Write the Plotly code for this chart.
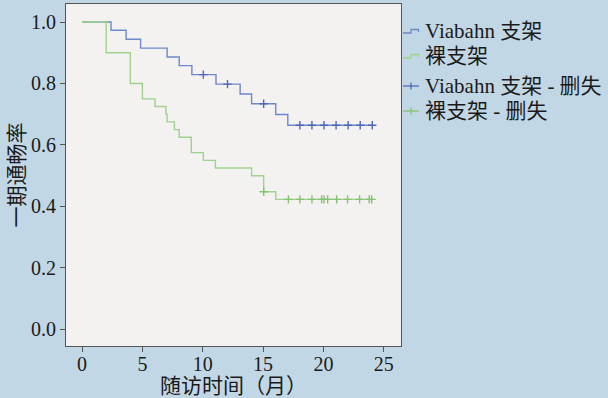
import numpy as np
import plotly.graph_objects as go

# ---- data ----
blue_name = "Viabahn 支架"
green_name = "裸支架"
blue_times = [0, 2.4, 3.65, 4.85, 7.05, 8.05, 9.1, 11.1, 13.1, 14.05, 16.05, 17.05]
blue_surv = [1.0, 0.973, 0.944, 0.915, 0.886, 0.858, 0.829, 0.798, 0.766, 0.734, 0.699, 0.664]
blue_censor = [10.05, 12.05, 15.05, 18.05, 19.05, 20.05, 21.05, 22.05, 23.05, 24.05]

green_times = [0, 2.0, 4.0, 5.0, 6.05, 6.95, 7.05, 7.65, 8.05, 9.05, 10.05, 11.05, 14.05, 15.05, 16.05]
green_surv = [1.0, 0.90, 0.80, 0.75, 0.725, 0.70, 0.675, 0.65, 0.625, 0.575, 0.55, 0.525, 0.50, 0.448, 0.423]
green_censor = [15.05, 17.1, 18.05, 19.05, 19.85, 20.05, 20.35, 21.1, 22.0, 23.0, 23.8, 24.0]

x_ticks = [0, 5, 10, 15, 20, 25]
y_ticks = [0.0, 0.2, 0.4, 0.6, 0.8, 1.0]
x_title = "随访时间（月）"
y_title = "一期通畅率"
legend_labels = ["Viabahn 支架", "裸支架", "Viabahn 支架 - 删失", "裸支架 - 删失"]

BLUE = "#7088c9"
BLUE_M = "#5068b6"
GREEN = "#9fd28c"
GREEN_M = "#85c372"
FONT = "Liberation Serif, 'Noto Sans CJK SC', serif"
TXT = "#1a1a1a"


def step_xy(times, surv, censor):
    end = max(max(censor), times[-1])
    return list(times) + [end], list(surv) + [surv[-1]]


def censor_y(times, surv, censor):
    idx = np.searchsorted(np.array(times), np.array(censor), side="right") - 1
    return [surv[i] for i in idx]


fig = go.Figure()
for times, surv, cens, col, mcol, name in [
    (blue_times, blue_surv, blue_censor, BLUE, BLUE_M, blue_name),
    (green_times, green_surv, green_censor, GREEN, GREEN_M, green_name),
]:
    sx, sy = step_xy(times, surv, cens)
    fig.add_trace(go.Scatter(x=sx, y=sy, mode="lines", line=dict(color=col, width=1.4, shape="hv"),
                             name=name, showlegend=False, hoverinfo="skip"))
    fig.add_trace(go.Scatter(x=cens, y=censor_y(times, surv, cens), mode="markers",
                             marker=dict(symbol="cross-thin", size=6, line=dict(color=mcol, width=1.4)),
                             name=name + " - 删失", showlegend=False, hoverinfo="skip"))

# ---- custom legend (symbols + text) ----
L = 66
W = 335
T = 4
H = 342


def px(x):
    return (x - L) / W


def py(y):
    return 1 - (y - T) / H


rows = [31, 56, 86, 111]
cols = [BLUE, GREEN, BLUE_M, GREEN_M]
shapes = []
for i, (r, c) in enumerate(zip(rows, cols)):
    if i < 2:
        path = "M {} {} L {} {} L {} {} L {} {} L {} {}".format(
            px(403), py(r + 2), px(411), py(r + 2), px(411), py(r - 1.5), px(418.5), py(r - 1.5), px(418.5), py(r + 1))
        shapes.append(dict(type="path", xref="paper", yref="paper", path=path,
                           line=dict(color=c, width=1.3)))
    else:
        shapes.append(dict(type="line", xref="paper", yref="paper", x0=px(403), x1=px(419), y0=py(r), y1=py(r),
                           line=dict(color=c, width=1.3)))
        shapes.append(dict(type="line", xref="paper", yref="paper", x0=px(411), x1=px(411), y0=py(r - 3.5), y1=py(r + 3.5),
                           line=dict(color=c, width=1.3)))

annotations = []
for r, lab in zip(rows, legend_labels):
    annotations.append(dict(x=px(423), y=py(r), xref="paper", yref="paper", text=lab, showarrow=False,
                            xanchor="left", yanchor="middle", font=dict(family=FONT, size=21, color=TXT)))

fig.update_layout(
    width=608, height=398,
    margin=dict(l=L, r=608 - L - W, t=T, b=398 - T - H, pad=0, autoexpand=False),
    paper_bgcolor="#c2d7e5",
    plot_bgcolor="#f3f2f1",
    showlegend=False,
    shapes=shapes,
    annotations=annotations,
    font=dict(family=FONT, size=20, color=TXT),
    xaxis=dict(range=[-1.33, 26.43], tickvals=x_ticks, ticks="outside", ticklen=5, tickcolor="#555555",
               showgrid=False, zeroline=False, showline=True, linecolor="#555555", linewidth=1, mirror=True,
               automargin=False, ticklabelstandoff=-5, tickfont=dict(family=FONT, size=20, color=TXT),
               title=dict(text=x_title, standoff=0, font=dict(family=FONT, size=21, color=TXT))),
    yaxis=dict(range=[-0.054, 1.0586], tickvals=y_ticks, tickformat=".1f", ticks="outside", ticklen=5,
               tickcolor="#555555", showgrid=False, zeroline=False, showline=True, linecolor="#555555",
               linewidth=1, mirror=True, automargin=False, tickfont=dict(family=FONT, size=20, color=TXT),
               title=dict(text=y_title, standoff=0, font=dict(family=FONT, size=21, color=TXT))),
)

fig.write_html("out.html", config={"displayModeBar": False},
               post_script="document.body.style.margin='0';document.body.style.overflow='hidden';")
